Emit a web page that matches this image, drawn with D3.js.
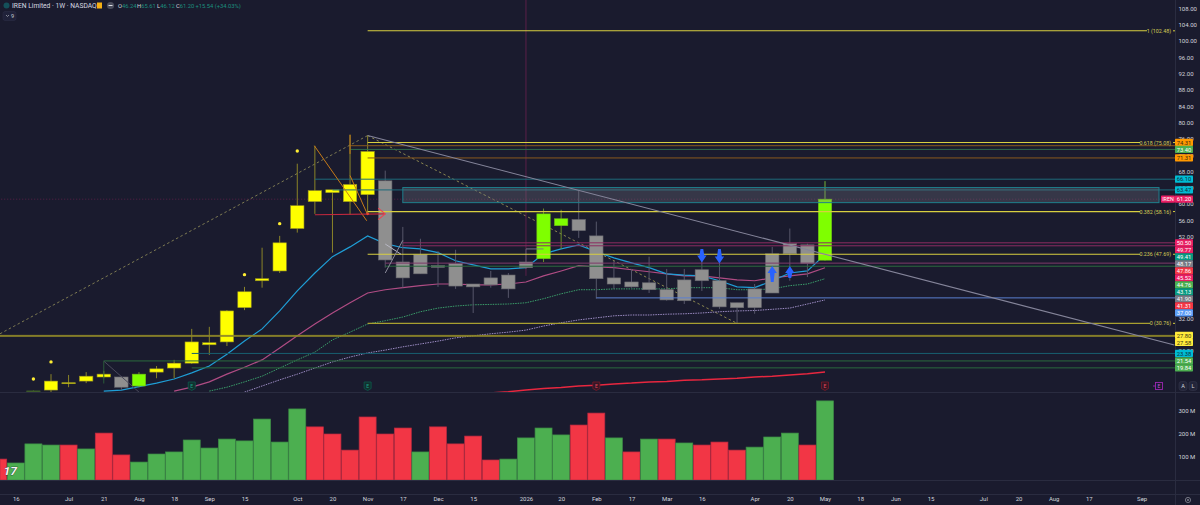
<!DOCTYPE html>
<html>
<head>
<meta charset="utf-8">
<script src="https://cdn.jsdelivr.net/npm/d3@7"></script>
<style>
  html, body { margin: 0; padding: 0; background: #1a1b2e; overflow: hidden; }
  svg { display: block; font-family: Roboto, "Liberation Sans", sans-serif; }
</style>
</head>
<body>
<div id="chart"></div>
<script>
// weekly candles, first one sits at index -1
const candleStart = -1
const opens = [13.9, 14.4, 16.2, 16.6, 18.3, 17.6, 15.4, 18.8, 19.8, 21.0, 25.5, 26.2, 34.6, 41.2, 43.6, 54.0, 63.3, 63.5, 64.8, 72.9, 65.7, 45.8, 42.9, 44.9, 45.4, 40.4, 41.9, 39.2, 44.4, 46.6, 54.7, 56.2, 52.2, 40.4, 40.9, 39.0, 39.0, 36.3, 43.9, 41.2, 35.8, 34.6, 38.2, 47.8, 50.0, 46.24]
const highs = [14.4, 18.3, 18.1, 18.8, 19.1, 17.8, 18.8, 20.3, 21.8, 29.4, 29.9, 34.0, 39.7, 49.3, 52.2, 69.9, 74.3, 63.5, 77.0, 76.8, 68.2, 54.4, 51.5, 48.5, 48.8, 40.4, 43.6, 43.1, 49.0, 58.9, 58.6, 63.3, 55.7, 46.1, 44.1, 47.1, 44.1, 44.1, 47.3, 46.6, 35.8, 40.4, 49.5, 54.0, 50.3, 65.61]
const lows = [13.6, 13.9, 15.1, 16.1, 17.3, 14.4, 15.1, 17.3, 17.3, 20.8, 23.0, 25.2, 34.0, 39.5, 43.1, 53.0, 57.6, 48.1, 57.4, 57.4, 44.4, 39.5, 42.9, 39.7, 39.2, 33.3, 39.5, 37.0, 44.1, 45.8, 49.0, 51.7, 36.8, 39.2, 39.5, 38.2, 36.3, 35.5, 38.7, 34.3, 30.6, 33.1, 38.2, 41.2, 42.1, 46.12]
const closes = [14.2, 16.6, 16.0, 17.8, 17.6, 15.1, 18.3, 19.6, 21.0, 26.2, 26.0, 33.8, 38.5, 41.7, 50.5, 59.6, 60.6, 62.8, 60.6, 62.3, 46.3, 41.9, 47.6, 44.5, 39.9, 39.7, 40.2, 42.6, 45.8, 57.6, 56.4, 53.5, 41.7, 41.9, 39.7, 40.7, 36.5, 41.4, 41.2, 34.8, 34.6, 39.2, 47.8, 50.3, 45.4, 61.20]
// y = yellow, g = grey, l = lime, d = dim
const candleKinds = 'd' + 'yyyy' + 'g' + 'l' + 'yyyyyyyyyyyyy' + 'ggggggggg' + 'll' + 'gggggggggggggg' + 'l'

const volumeStart = -3
const volumes = [91, 74, 157, 152, 152, 135, 204, 109, 78, 113, 122, 174, 139, 178, 170, 265, 165, 309, 231, 200, 130, 274, 200, 226, 122, 231, 157, 191, 87, 91, 183, 226, 196, 239, 291, 183, 122, 178, 178, 161, 152, 165, 130, 143, 187, 204, 152, 344]
const volumeUp = [0, 1, 1, 1, 0, 1, 0, 0, 1, 1, 1, 1, 1, 1, 1, 1, 1, 1, 0, 0, 0, 0, 0, 0, 1, 0, 0, 0, 0, 1, 1, 1, 1, 0, 0, 1, 0, 1, 0, 1, 0, 0, 0, 1, 1, 1, 0, 1]

// moving averages, each with the index of its first point
const blueStart = 3
const blueMa = [14.15, 14.4, 15.25, 16.1, 17.1, 18.6, 20.3, 23.2, 26.4, 29.4, 33.8, 38.7, 43.1, 47.1, 49.5, 52.2, 50.3, 49.3, 49.0, 48.1, 46.1, 45.1, 44.1, 44.1, 44.4, 47.8, 49.0, 50.0, 48.3, 46.8, 45.6, 44.4, 42.9, 42.6, 42.4, 41.2, 39.7, 39.5, 41.2, 43.1, 43.6, 47.6]
const pinkStart = 7
const pinkMa = [14.15, 15.1, 16.4, 18.3, 20.0, 21.8, 24.7, 27.7, 30.6, 33.3, 35.8, 38.2, 39.0, 39.5, 40.0, 40.4, 40.4, 40.2, 40.2, 40.4, 40.9, 42.4, 43.6, 44.9, 44.6, 44.4, 43.9, 43.4, 42.9, 42.4, 42.4, 41.9, 41.4, 41.2, 41.9, 42.4, 42.9, 44.4]
const greenStart = 9
const greenMa = [14.15, 15.1, 16.4, 17.8, 19.8, 21.8, 23.7, 26.7, 28.6, 30.6, 31.4, 32.3, 33.6, 34.5, 35.0, 35.3, 35.4, 35.5, 35.8, 36.8, 38.0, 39.0, 39.0, 39.2, 39.2, 39.2, 39.2, 39.5, 39.5, 39.5, 39.0, 39.0, 39.2, 40.0, 40.4, 41.7]
const lavenderStart = 11
const lavenderMa = [13.9, 15.4, 16.9, 18.3, 19.8, 21.3, 22.5, 23.5, 24.2, 25.0, 25.7, 26.4, 27.2, 27.7, 28.2, 28.6, 29.1, 30.1, 30.9, 31.6, 32.1, 32.6, 32.8, 32.8, 33.0, 33.1, 33.3, 33.6, 33.8, 33.9, 34.2, 34.5, 35.5, 36.5]
const redStart = 25
const redMa = [13.7, 14.0, 14.4, 14.8, 15.0, 15.4, 15.6, 15.9, 16.1, 16.4, 16.5, 16.8, 16.9, 17.1, 17.3, 17.6, 17.8, 18.1, 18.4, 18.8]

// axis labels
const priceTicks = [108, 104, 100, 96, 92, 88, 84, 80, 76, 72, 68, 64, 60, 56, 52, 32, 24]
const volumeTicks = [300, 200, 100]
const timeTickIdx = [-2, 1, 3, 5, 7, 9, 11, 14, 16, 18, 20, 22, 24, 27, 29, 31, 33, 35, 37, 40, 42, 44, 46, 48, 50, 53, 55, 57, 59, 62]
const timeTickLabels = ['16', 'Jul', '21', 'Aug', '18', 'Sep', '15', 'Oct', '20', 'Nov', '17', 'Dec', '15', '2026', '20', 'Feb', '17', 'Mar', '16', 'Apr', '20', 'May', '18', 'Jun', '15', 'Jul', '20', 'Aug', '17', 'Sep']

// fib levels
const fibValues = [102.48, 75.08, 58.16, 47.69, 30.76]
const fibLabels = ['1 (102.48)', '0.618 (75.08)', '0.382 (58.16)', '0.236 (47.69)', '0 (30.76)']
// horizontal rays: price, index they start from
const rayValues = [74.31, 73.40, 71.31, 66.10, 63.47, 50.50, 49.77, 45.52, 44.76, 37.00, 27.80, 27.58, 23.38, 21.54, 19.84]
const rayStarts = [17, 17, 18, 15, 16, 20, 20, 19, 19, 31, -4, -4, 8, 3, 8]

// price tags on the right axis
const tagValues = [74.31, 73.40, 71.31, 66.10, 63.47, 61.20, 50.50, 49.77, 49.41, 48.17, 47.86, 45.52, 44.76, 43.13, 41.90, 41.31, 37.00, 27.80, 27.58, 23.38, 21.54, 19.84]
const tagKinds = ['orange', 'green', 'orange', 'cyan', 'cyan', 'pink', 'pink', 'pink', 'teal', 'grey', 'red', 'pink', 'green', 'teal', 'grey', 'red', 'blue', 'yellow', 'yellow', 'cyan', 'green', 'green']

// yellow dots over some candles
const dotIdx = [-1, 0, 11, 13, 14]
const dotPrices = [17.1, 21.3, 42.7, 55.2, 73.0]

const earningsIdx = [8, 18, 31, 44]
const earningsPast = [1, 1, 0, 0]

const width = 1200
const height = 505
const plotRight = 1175
const paneBottom = 392
const volBottom = 480

const colors = {
  bg: '#1a1b2e', border: '#2a2c40', text: '#d1d4dc',
  orange: '#ff9800', green: '#4caf50', cyan: '#00bcd4', pink: '#e91e63', teal: '#089981',
  grey: '#787b86', red: '#f23645', blue: '#5b9cf6', yellow: '#ffeb3b'
}
const tagText = { orange: '#3a2a10', cyan: '#10303a', yellow: '#3a3510' }

const x = d3.scaleLinear().domain([0, 44]).range([51, 825])
const y = d3.scaleLinear().domain([108, 52]).range([8.3, 236.7])
const yVol = d3.scaleLinear().domain([0, 100]).range([volBottom, volBottom - 23])

const svg = d3.select('#chart').append('svg')
  .attr('width', width)
  .attr('height', height)
  .style('background', colors.bg)

const defs = svg.append('defs')
defs.append('clipPath').attr('id', 'price-clip')
  .append('rect').attr('width', plotRight).attr('height', paneBottom)

const pricePane = svg.append('g').attr('clip-path', 'url(#price-clip)')

// helper for annotation lines given in index / price
function seg(parent, i0, p0, i1, p1, stroke, sw, dash) {
  return parent.append('line')
    .attr('x1', x(i0)).attr('y1', y(p0))
    .attr('x2', x(i1)).attr('y2', y(p1))
    .attr('stroke', stroke)
    .attr('stroke-width', sw)
    .attr('stroke-dasharray', dash || null)
}

// fib connector, dashed
seg(pricePane, -2.9, 28.2, 18, 76.8, '#7d7a52', 1, '2.5 2.5')
seg(pricePane, 18, 76.8, 39, 30.76, '#8a8650', 1, '2.5 2.5')

// crosshair
seg(pricePane, -3, 61.2, 64, 61.2, '#5a2048', 1, '1 2')
pricePane.append('line')
  .attr('x1', x(27)).attr('x2', x(27))
  .attr('y1', 0).attr('y2', y(42.4))
  .attr('stroke', '#5a2048').attr('stroke-width', 1)

// moving averages
const maLine = start => d3.line().x((d, i) => x(start + i)).y(d => y(d))
pricePane.append('path').attr('d', maLine(lavenderStart)(lavenderMa))
  .attr('fill', 'none').attr('stroke', '#9c8cc4').attr('stroke-width', 1).attr('stroke-dasharray', '1.5 1')
pricePane.append('path').attr('d', maLine(greenStart)(greenMa))
  .attr('fill', 'none').attr('stroke', '#3a9e6a').attr('stroke-width', 1).attr('stroke-dasharray', '1.5 1')
pricePane.append('path').attr('d', maLine(pinkStart)(pinkMa))
  .attr('fill', 'none').attr('stroke', '#b04c84').attr('stroke-width', 1.2)
pricePane.append('path').attr('d', maLine(blueStart)(blueMa))
  .attr('fill', 'none').attr('stroke', '#1f9ed6').attr('stroke-width', 1.2)
pricePane.append('path').attr('d', maLine(redStart)(redMa))
  .attr('fill', 'none').attr('stroke', '#e8273f').attr('stroke-width', 1.5)

// candles
const candleFill = { y: '#ffff00', g: '#8f8f8f', l: '#7fff00', d: '#3d5a2a' }
const candleEdge = { y: '#9a9420', g: '#6a6a70', l: '#6fb81a', d: '#3d5a2a' }
const wickColor = { y: '#8a8428', g: '#56566a', l: '#6c8f28', d: '#3d5a2a' }
const candles = opens.map((o, i) => ({
  idx: candleStart + i, o, h: highs[i], l: lows[i], c: closes[i], kind: candleKinds[i]
}))
pricePane.selectAll('line.wick').data(candles).enter().append('line')
  .attr('class', 'wick')
  .attr('x1', d => x(d.idx)).attr('x2', d => x(d.idx))
  .attr('y1', d => y(d.h)).attr('y2', d => y(d.l))
  .attr('stroke', d => wickColor[d.kind]).attr('stroke-width', 1)
pricePane.selectAll('rect.body').data(candles).enter().append('rect')
  .attr('class', 'body')
  .attr('x', d => x(d.idx) - 6.7)
  .attr('width', 13.4)
  .attr('y', d => y(Math.max(d.o, d.c)))
  .attr('height', d => Math.max(1, Math.abs(y(d.o) - y(d.c))))
  .attr('fill', d => candleFill[d.kind])
  .attr('stroke', d => candleEdge[d.kind]).attr('stroke-width', 0.6)

// the latest candle's wick top runs green
seg(pricePane, 44, 65.61, 44, 61.2, '#4d7a3a', 1)

// dots
pricePane.selectAll('circle.dot').data(dotIdx).enter().append('circle')
  .attr('class', 'dot')
  .attr('cx', d => x(d))
  .attr('cy', (d, i) => y(dotPrices[i]))
  .attr('r', 1.7)
  .attr('fill', '#ffee33')

// rays
const rayColors = ['#8a5a1e', '#2f6a4a', '#8a5a1e', '#1d6a7a', '#1d6a7a', '#8c2c60', '#8c2c60', '#7e3a6a', '#2a6a3e', '#5b7fd0', '#8f8828', '#8f8828', '#175f70', '#2a6a3e', '#2a6a3e']
pricePane.selectAll('line.ray').data(rayValues).enter().append('line')
  .attr('class', 'ray')
  .attr('x1', (d, i) => x(rayStarts[i]))
  .attr('x2', plotRight)
  .attr('y1', d => y(d)).attr('y2', d => y(d))
  .attr('stroke', (d, i) => rayColors[i]).attr('stroke-width', 1)

// grey box around the 60-64 zone
pricePane.append('rect')
  .attr('x', x(20))
  .attr('width', 1159 - x(20))
  .attr('y', y(64.05))
  .attr('height', y(60.35) - y(64.05))
  .attr('fill', '#787b86').attr('fill-opacity', 0.3)
  .attr('stroke', '#1f7f8c').attr('stroke-width', 1)

// fib lines with labels
const fibEnds = [1147, 1140, 1140, 1140, 1150]
fibValues.forEach((v, i) => {
  pricePane.append('line')
    .attr('x1', x(18)).attr('x2', fibEnds[i])
    .attr('y1', y(v)).attr('y2', y(v))
    .attr('stroke', i === 4 ? '#a89f30' : '#d8cf40')
    .attr('stroke-width', 1.1)
  pricePane.append('text')
    .attr('x', 1171).attr('y', y(v) + 2)
    .attr('text-anchor', 'end')
    .attr('font-size', 5.3)
    .attr('fill', '#d4cb55')
    .text(fibLabels[i])
  pricePane.append('line')
    .attr('x1', 1173).attr('x2', plotRight)
    .attr('y1', y(v)).attr('y2', y(v))
    .attr('stroke', '#d8cf40')
})

// trend line and small drawings
seg(pricePane, 18, 76.8, 63.86, 25.45, '#85859a', 1.1)
seg(pricePane, 14.97, 74.3, 17.95, 55.9, '#c67a18', 1)
seg(pricePane, 17, 67, 18, 57.4, '#c67a18', 1)
seg(pricePane, 17, 77, 17, 72.3, '#c67a18', 1)
seg(pricePane, 15, 57.4, 19, 57.6, '#c0283e', 1.1)
seg(pricePane, 18.6, 59.0, 19, 57.6, '#f0404e', 1.1)
seg(pricePane, 18.6, 56.2, 19, 57.6, '#f0404e', 1.1)
pricePane.append('circle').attr('cx', x(18)).attr('cy', y(57.6)).attr('r', 1.3).attr('fill', '#e8402e')
seg(pricePane, 19, 50.2, 19.9, 47.7, '#b8b8c4', 1)
seg(pricePane, 19, 43.1, 20, 51.1, '#8a8a9a', 1)
seg(pricePane, 27, 49.0, 28, 49.0, '#77778a', 1)
seg(pricePane, 3, 21.5, 5, 13.9, '#4a4a5c', 1)
seg(pricePane, 3, 21.5, 3, 16, '#2a5a3a', 1)

// blue arrows
const arrowIdx = [37, 38, 41, 42]
const arrowTop = [49.0, 49.0, 44.8, 44.8]
const arrowBase = [45.7, 45.4, 40.9, 41.9]
const arrowDown = [1, 1, 0, 0]
arrowIdx.forEach((idx, i) => {
  const cx = x(idx)
  const tip = y(arrowDown[i] ? arrowBase[i] : arrowTop[i])
  const tail = y(arrowDown[i] ? arrowTop[i] : arrowBase[i])
  const dir = arrowDown[i] ? -1 : 1
  const p = d3.path()
  p.moveTo(cx, tip)
  p.lineTo(cx + 4.7, tip + dir * 7)
  p.lineTo(cx + 2.4, tip + dir * 7)
  p.lineTo(cx + 1.4, tail)
  p.lineTo(cx - 1.4, tail)
  p.lineTo(cx - 2.4, tip + dir * 7)
  p.lineTo(cx - 4.7, tip + dir * 7)
  p.closePath()
  pricePane.append('path').attr('d', p.toString()).attr('fill', '#2962ff')
})

// earnings flags
earningsIdx.forEach((idx, i) => {
  const stroke = earningsPast[i] ? '#0c5a4c' : '#7a1a28'
  const g = svg.append('g').attr('transform', `translate(${x(idx)},386)`)
  g.append('path')
    .attr('d', 'M-3.5,-4 H3.5 V2.5 L0,4.5 L-3.5,2.5 Z')
    .attr('fill', earningsPast[i] ? '#12302e' : '#351726')
    .attr('stroke', stroke).attr('stroke-width', 0.8)
  g.append('text').attr('y', 1.8).attr('text-anchor', 'middle')
    .attr('font-size', 5).attr('fill', earningsPast[i] ? '#1aa58c' : '#e0485c').text('E')
})
// next earnings
const nextE = svg.append('g').attr('transform', 'translate(1159,386)')
nextE.append('rect').attr('x', -3.5).attr('y', -3.5).attr('width', 7).attr('height', 7)
  .attr('fill', 'none').attr('stroke', '#9c27b0').attr('stroke-width', 0.9)
nextE.append('line').attr('x1', -6).attr('x2', -3.5).attr('stroke', '#9c27b0').attr('stroke-width', 0.9)
nextE.append('text').attr('y', 2).attr('text-anchor', 'middle').attr('font-size', 5).attr('fill', '#c050d8').text('E')

// volume
const bars = volumes.map((v, i) => ({ idx: volumeStart + i, v, up: volumeUp[i] }))
svg.append('g').selectAll('rect').data(bars).enter().append('rect')
  .attr('x', d => Math.max(0, x(d.idx) - 8.5))
  .attr('width', d => x(d.idx) - 8.5 < 0 ? x(d.idx) + 8.5 : 17)
  .attr('y', d => yVol(d.v))
  .attr('height', d => volBottom - yVol(d.v))
  .attr('fill', d => d.up ? '#4caf50' : '#f23645')
  .attr('stroke', d => d.up ? '#3c8a46' : '#b82a40')
  .attr('stroke-width', 0.7)

// pane separators
;[paneBottom, volBottom, 494].forEach(v => {
  svg.append('line').attr('x1', 0).attr('x2', width).attr('y1', v + 0.5).attr('y2', v + 0.5)
    .attr('stroke', colors.border).attr('stroke-width', 1)
})
svg.append('line').attr('x1', plotRight + 0.5).attr('x2', plotRight + 0.5).attr('y1', 0).attr('y2', height)
  .attr('stroke', colors.border).attr('stroke-width', 1)

// axes
const styleAxis = g => {
  g.select('.domain').remove()
  g.selectAll('line').remove()
  g.selectAll('text').attr('fill', colors.text).attr('font-size', 6)
    .attr('font-family', 'Roboto, "Liberation Sans", sans-serif')
}
svg.append('g')
  .attr('transform', `translate(${plotRight},0)`)
  .call(d3.axisRight(y).tickValues(priceTicks).tickSize(0).tickPadding(3.5).tickFormat(d3.format('.2f')))
  .call(styleAxis)
svg.append('g')
  .attr('transform', `translate(${plotRight},0)`)
  .call(d3.axisRight(yVol).tickValues(volumeTicks).tickSize(0).tickPadding(3.5).tickFormat(d => d + ' M'))
  .call(styleAxis)
svg.append('g')
  .attr('transform', 'translate(0,494)')
  .call(d3.axisBottom(x).tickValues(timeTickIdx).tickSize(0).tickPadding(2.5)
    .tickFormat(d => timeTickLabels[timeTickIdx.indexOf(d)]))
  .call(styleAxis)

// right axis price tags, stacked so they do not overlap
const tagGap = 7
const tagY = tagValues.map(v => y(v))
for (let i = 1; i >= 0; i--) tagY[i] = Math.min(tagY[i], tagY[i + 1] - tagGap)
for (let i = 3; i < tagY.length; i++) tagY[i] = Math.max(tagY[i], tagY[i - 1] + tagGap)
tagValues.forEach((v, i) => {
  const kind = tagKinds[i]
  const g = svg.append('g').attr('transform', `translate(${plotRight},${tagY[i]})`)
  g.append('rect').attr('x', 0).attr('y', -3.6).attr('width', 18).attr('height', 7.2)
    .attr('rx', 0.8).attr('fill', colors[kind])
  g.append('text').attr('x', 9).attr('y', 2.1).attr('text-anchor', 'middle')
    .attr('font-size', 5.8).attr('fill', tagText[kind] || '#ffffff').text(v.toFixed(2))
})
// ticker tag beside the last price
svg.append('rect').attr('x', 1161).attr('y', y(61.2) - 3.6).attr('width', 14).attr('height', 7.2)
  .attr('rx', 0.8).attr('fill', colors.pink)
svg.append('text').attr('x', 1168).attr('y', y(61.2) + 2.1).attr('text-anchor', 'middle')
  .attr('font-size', 5.4).attr('fill', '#fff').text('IREN')

// A / L buttons and gear
;[['A', 1183], ['L', 1193]].forEach(([t, bx]) => {
  svg.append('rect').attr('x', bx - 4).attr('y', 381.5).attr('width', 8).attr('height', 9).attr('rx', 2.5)
    .attr('fill', '#23253a').attr('stroke', '#34364a').attr('stroke-width', 0.6)
  svg.append('text').attr('x', bx).attr('y', 388.2).attr('text-anchor', 'middle')
    .attr('font-size', 5.6).attr('fill', colors.text).text(t)
})
svg.append('circle').attr('cx', 1188).attr('cy', 500).attr('r', 2.6)
  .attr('fill', 'none').attr('stroke', '#8a8c98').attr('stroke-width', 0.8)
svg.append('circle').attr('cx', 1188).attr('cy', 500).attr('r', 0.9).attr('fill', '#8a8c98')

// header
const header = svg.append('g')
header.append('circle').attr('cx', 6.5).attr('cy', 5.5).attr('r', 3).attr('fill', '#14505a')
header.append('text').attr('x', 12).attr('y', 8).attr('font-size', 6.7).attr('fill', '#d6d8e0')
  .text('IREN Limited · 1W · NASDAQ')
header.append('rect').attr('x', 97).attr('y', 2.5).attr('width', 5).attr('height', 6).attr('fill', '#f5b014')
header.append('circle').attr('cx', 110.5).attr('cy', 5.5).attr('r', 3.6).attr('fill', '#4a4c5c')
header.append('rect').attr('x', 108.5).attr('y', 5).attr('width', 4).attr('height', 1).attr('fill', '#e0e0e6')
const ohlcLabels = ['O', 'H', 'L', 'C']
const ohlcValues = ['46.24', '65.61', '46.12', '61.20']
const ohlcX = [118, 137, 157, 176]
ohlcLabels.forEach((t, i) => {
  const txt = header.append('text').attr('x', ohlcX[i]).attr('y', 8).attr('font-size', 5.8)
  txt.append('tspan').attr('fill', '#d1d4dc').text(t)
  txt.append('tspan').attr('fill', '#1b8f7e').text(ohlcValues[i])
})
header.append('text').attr('x', 195.5).attr('y', 8).attr('font-size', 5.8).attr('fill', '#1b8f7e')
  .text('+15.54 (+34.03%)')
header.append('rect').attr('x', 3).attr('y', 11.5).attr('width', 13).attr('height', 9).attr('rx', 2)
  .attr('fill', '#20223a').attr('stroke', '#2c2e44').attr('stroke-width', 0.6)
header.append('path').attr('d', 'M6,15 L7.5,16.5 L9,15').attr('fill', 'none').attr('stroke', '#b0b2bc').attr('stroke-width', 0.7)
header.append('text').attr('x', 11).attr('y', 18.2).attr('font-size', 5.6).attr('fill', '#c8cad2').text('9')

// watermark logo
svg.append('text').attr('x', 3.5).attr('y', 475).attr('font-size', 10).attr('font-weight', 'bold')
  .attr('font-style', 'italic').attr('textLength', 13.5).attr('lengthAdjust', 'spacingAndGlyphs')
  .attr('fill', '#f4f4f4').attr('stroke', '#1a1b2e').attr('stroke-width', 0.5)
  .attr('paint-order', 'stroke').text('17')
</script>
</body>
</html>
